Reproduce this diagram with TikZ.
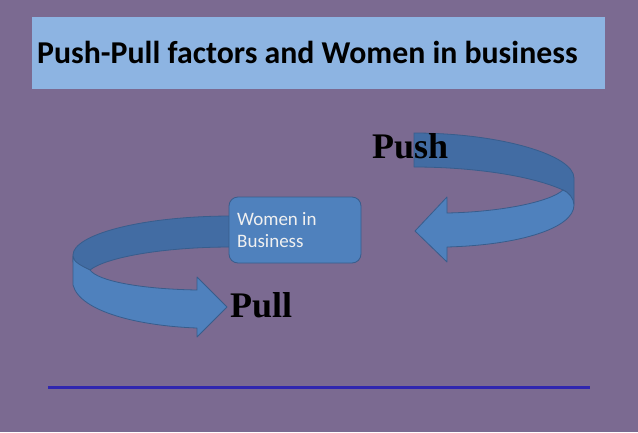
\documentclass[tikz,border=0pt]{standalone}
\usepackage{fontspec}
\setmainfont{Liberation Serif}
\newfontfamily\calib{Carlito}
\definecolor{bgpurple}{RGB}{123,106,145}
\definecolor{titleblue}{RGB}{141,180,226}
\definecolor{bandlight}{RGB}{79,129,189}
\definecolor{banddark}{RGB}{66,108,163}
\definecolor{bandline}{RGB}{56,93,140}
\definecolor{rulecol}{RGB}{48,38,175}
\tikzset{
  bandback/.style={fill=banddark, draw=bandline, line width=0.8pt, line join=round},
  bandfront/.style={fill=bandlight, draw=bandline, line width=0.8pt, line join=round},
  bigword/.style={font=\fontsize{36}{40}\selectfont\bfseries, text=black, inner sep=0pt, anchor=base west},
}
\begin{document}
\begin{tikzpicture}[x=1pt,y=-1pt]
\useasboundingbox (0,0) rectangle (638,432);
\fill[bgpurple] (0,0) rectangle (638,432);
% title
\fill[titleblue] (32,17) rectangle (605,89);
\node[font=\calib\bfseries\fontsize{31.8}{34}\selectfont, inner sep=0pt, anchor=base west] (title) at (37,63) {Push-Pull factors and Women in business};
% Pull arrow (behind box)
\path[bandback] (232,216) .. controls (140,216) and (73,235) .. (73,255) -- (73,262)
  .. controls (80,266) and (86,268) .. (90,270)
  .. controls (105,258) and (160,247) .. (232,247) -- cycle;
\path[bandfront] (73,256) -- (73,285) .. controls (80,312) and (140,326) .. (197,328)
  -- (197,337) -- (227,307) -- (197,277) -- (197,290)
  .. controls (140,289) and (98,281) .. (90,270)
  .. controls (82,266) and (73,262) .. (73,256) -- cycle;
% box
\node[draw=bandline, fill=bandlight, rounded corners=9pt, line width=0.8pt, minimum width=132pt, minimum height=66pt, inner sep=0pt] (wib) at (295,230) {};
\node[font=\calib\fontsize{19}{22}\selectfont, text=white!94!black, align=left, inner sep=0pt, anchor=base west] (wibtext) at (237,247) {Women in\\Business};
% Push arrow
\path[bandback] (414,133) .. controls (500,133) and (574,155) .. (574,178) -- (574,204)
  .. controls (572,197) and (568,192) .. (563,190)
  .. controls (530,175) and (470,167) .. (414,167) -- cycle;
\path[bandfront] (563,190) .. controls (568,192) and (574,198) .. (574,205)
  .. controls (574,228) and (520,245) .. (447,247)
  -- (447,262) -- (415,231) -- (447,197) -- (447,213)
  .. controls (500,212) and (550,202) .. (563,190) -- cycle;
% words
\node[bigword] (push) at (372,158) {Push};
\node[bigword] (pull) at (230,317) {Pull};
% rule
\coordinate (ruleL) at (48,387.5);
\coordinate (ruleR) at (590,387.5);
\draw[rulecol, line width=2.5pt] (ruleL) -- (ruleR);
\end{tikzpicture}
\end{document}
